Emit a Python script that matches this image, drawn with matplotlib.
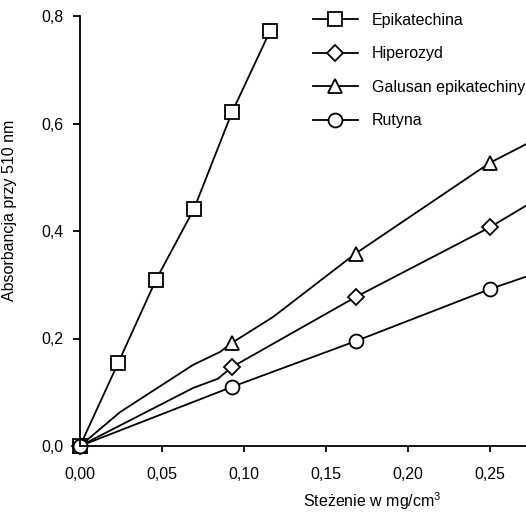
import numpy as np
import matplotlib
matplotlib.use("Agg")
import matplotlib.pyplot as plt

plt.rcParams['font.family'] = ['Liberation Sans', 'DejaVu Sans']
plt.rcParams['mathtext.fontset'] = 'custom'
plt.rcParams['mathtext.rm'] = 'Liberation Sans'
plt.rcParams['font.size'] = 11.5

epi_x = [0.0, 0.0232, 0.0463, 0.0695, 0.0927, 0.1159]
epi_y = [0.0, 0.154, 0.309, 0.441, 0.621, 0.772]

hip_x = [0.0, 0.069, 0.084, 0.0927, 0.168, 0.25, 0.336]
hip_y = [0.0, 0.108, 0.125, 0.147, 0.277, 0.407, 0.564]
hip_mark = [0, 3, 4, 5]

gal_x = [0.0, 0.0244, 0.069, 0.0854, 0.0927, 0.1177, 0.168, 0.25, 0.336]
gal_y = [0.0, 0.063, 0.151, 0.175, 0.192, 0.240, 0.358, 0.527, 0.662]
gal_mark = [0, 4, 6, 7]

rut_x = [0.0, 0.0927, 0.168, 0.25, 0.336]
rut_y = [0.0, 0.110, 0.195, 0.292, 0.382]
rut_mark = [0, 1, 2, 3]

xticks = [0.0, 0.05, 0.10, 0.15, 0.20, 0.25]
yticks = [0.0, 0.2, 0.4, 0.6, 0.8]

fig = plt.figure(figsize=(5.26, 5.12), dpi=100)
ax = fig.add_axes([80/526, 66/512, 446/526, 430/512])

style = dict(color='k', lw=1.3, mfc='white', mec='k', mew=1.3)
ax.plot(epi_x, epi_y, marker='s', ms=10, label='Epikatechina', clip_on=False, **style)
ax.plot(hip_x, hip_y, marker='D', ms=8, markevery=hip_mark, label='Hiperozyd', **style)
ax.plot(gal_x, gal_y, marker='^', ms=10, markevery=gal_mark, label='Galusan epikatechiny', **style)
ax.plot(rut_x, rut_y, marker='o', ms=10, markevery=rut_mark, label='Rutyna', **style)

# punkty zerowe lezace na osiach
for x, y, m, s in [(hip_x, hip_y, 'D', 8), (gal_x, gal_y, '^', 10), (rut_x, rut_y, 'o', 10)]:
    ax.plot(x[0], y[0], marker=m, ms=s, ls='none', mfc='white', mec='k', mew=1.3, clip_on=False)

ax.set_xlim(0, 446/1640)
ax.set_ylim(0, 0.8)
ax.set_xticks(xticks)
ax.set_xticklabels([f"{t:.2f}".replace('.', ',') for t in xticks])
ax.set_yticks(yticks)
ax.set_yticklabels([f"{t:.1f}".replace('.', ',') for t in yticks])
ax.tick_params(axis='y', direction='out', length=5, width=1.3, pad=7)
ax.tick_params(axis='x', direction='out', length=4, width=1.3, pad=11)

for s in ['top', 'right']:
    ax.spines[s].set_visible(False)
for s in ['left', 'bottom']:
    ax.spines[s].set_linewidth(1.3)

ax.set_ylabel('Absorbancja przy 510 nm')
ax.yaxis.set_label_coords(-0.141, 0.547)
ax.set_xlabel('Steżenie w mg/cm$^3$')
ax.xaxis.set_label_coords(0.655, -0.102)

leg = fig.legend(loc='upper left', bbox_to_anchor=(313/526, 1 - 13/512),
                 frameon=False, borderpad=0, borderaxespad=0,
                 handlelength=2.8, handletextpad=0.9, labelspacing=1.15)

fig.savefig('out.png', dpi=100)
